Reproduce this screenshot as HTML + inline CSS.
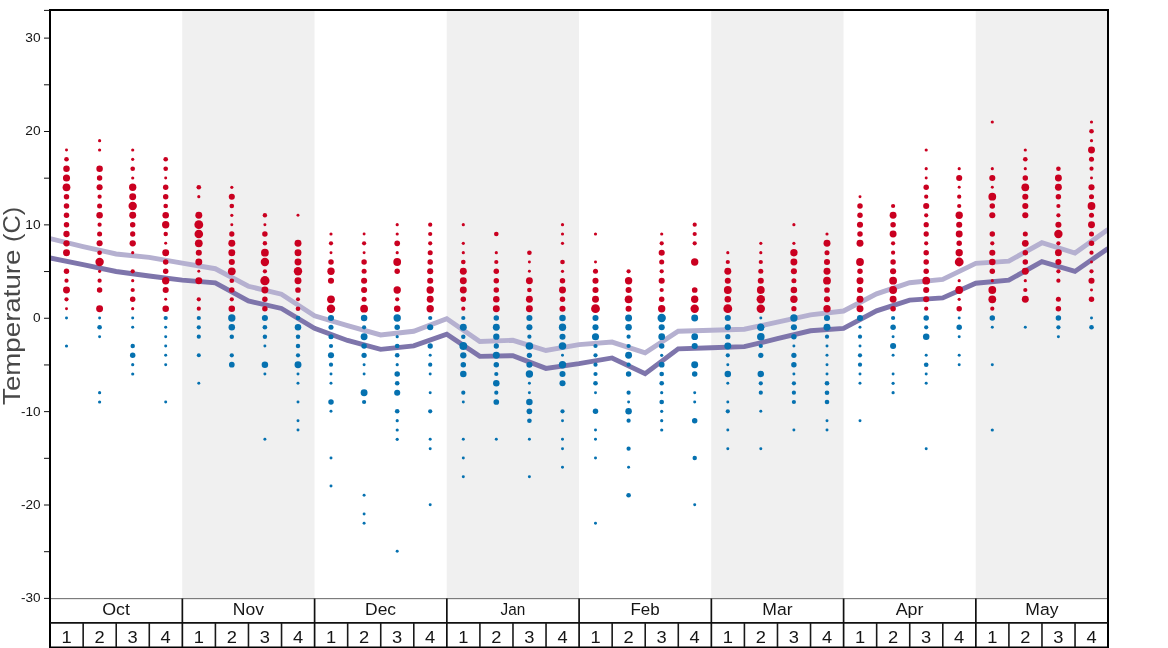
<!DOCTYPE html>
<html><head><meta charset="utf-8"><title>Temperature</title>
<style>html,body{margin:0;padding:0;background:#fff}body{width:1168px;height:648px;overflow:hidden}svg{display:block;will-change:transform}text{font-family:"Liberation Sans",sans-serif}</style></head><body>
<svg width="1168" height="648" viewBox="0 0 1168 648">
<rect width="1168" height="648" fill="#fff"/>
<rect x="182.25" y="10.0" width="132.25" height="588.0" fill="#f0f0f0"/>
<rect x="446.75" y="10.0" width="132.25" height="588.0" fill="#f0f0f0"/>
<rect x="711.25" y="10.0" width="132.25" height="588.0" fill="#f0f0f0"/>
<rect x="975.75" y="10.0" width="132.25" height="588.0" fill="#f0f0f0"/>
<clipPath id="c"><rect x="50.0" y="10.0" width="1058.0" height="588.0"/></clipPath>
<g clip-path="url(#c)" fill="none" stroke-width="4.9" stroke-linejoin="miter">
<path d="M50.00 238.57 L83.06 246.51 L116.12 253.97 L149.19 257.43 L182.25 263.12 L215.31 268.72 L248.38 286.27 L281.44 294.20 L314.50 315.76 L347.56 325.56 L380.62 334.89 L413.69 331.25 L446.75 318.65 L479.81 341.43 L512.88 340.31 L545.94 350.48 L579.00 344.60 L612.06 342.08 L645.12 352.81 L678.19 331.25 L711.25 330.32 L744.31 329.20 L777.38 322.11 L810.44 314.92 L843.50 311.00 L876.56 293.83 L909.62 282.72 L942.69 279.36 L975.75 263.40 L1008.81 261.16 L1041.88 242.77 L1074.94 253.04 L1108.00 229.43" stroke="#b5b0d0"/>
<path d="M50.00 257.89 L83.06 264.71 L116.12 271.52 L149.19 276.00 L182.25 280.11 L215.31 282.81 L248.38 301.01 L281.44 308.48 L314.50 328.36 L347.56 340.49 L380.62 349.36 L413.69 345.91 L446.75 334.15 L479.81 356.36 L512.88 355.71 L545.94 368.40 L579.00 363.64 L612.06 357.95 L645.12 373.63 L678.19 348.89 L711.25 347.77 L744.31 346.65 L777.38 338.72 L810.44 330.79 L843.50 328.45 L876.56 310.81 L909.62 300.17 L942.69 297.93 L975.75 283.19 L1008.81 280.20 L1041.88 261.63 L1074.94 271.43 L1108.00 248.47" stroke="#7e75ab"/>
</g>
<g fill="#ca0020"><circle cx="66.5" cy="150.0" r="1.49"/><circle cx="66.5" cy="159.3" r="2.32"/><circle cx="66.5" cy="168.7" r="3.26"/><circle cx="66.5" cy="178.0" r="3.57"/><circle cx="66.5" cy="187.3" r="3.89"/><circle cx="66.5" cy="196.7" r="2.74"/><circle cx="66.5" cy="206.0" r="2.74"/><circle cx="66.5" cy="215.3" r="2.74"/><circle cx="66.5" cy="224.7" r="2.74"/><circle cx="66.5" cy="234.0" r="3.16"/><circle cx="66.5" cy="243.3" r="3.16"/><circle cx="66.5" cy="252.7" r="3.47"/><circle cx="66.5" cy="271.3" r="2.74"/><circle cx="66.5" cy="280.7" r="2.11"/><circle cx="66.5" cy="290.0" r="3.47"/><circle cx="66.5" cy="299.3" r="2.11"/><circle cx="66.5" cy="308.7" r="1.49"/><circle cx="99.6" cy="140.7" r="1.59"/><circle cx="99.6" cy="150.0" r="1.59"/><circle cx="99.6" cy="168.7" r="3.26"/><circle cx="99.6" cy="178.0" r="2.74"/><circle cx="99.6" cy="187.3" r="3.05"/><circle cx="99.6" cy="196.7" r="2.11"/><circle cx="99.6" cy="206.0" r="2.53"/><circle cx="99.6" cy="215.3" r="3.26"/><circle cx="99.6" cy="224.7" r="2.11"/><circle cx="99.6" cy="234.0" r="2.53"/><circle cx="99.6" cy="243.3" r="3.05"/><circle cx="99.6" cy="252.7" r="2.32"/><circle cx="99.6" cy="262.0" r="4.20"/><circle cx="99.6" cy="271.3" r="1.59"/><circle cx="99.6" cy="280.7" r="2.11"/><circle cx="99.6" cy="290.0" r="2.74"/><circle cx="99.6" cy="308.7" r="3.47"/><circle cx="132.7" cy="150.0" r="1.59"/><circle cx="132.7" cy="159.3" r="1.59"/><circle cx="132.7" cy="168.7" r="2.32"/><circle cx="132.7" cy="178.0" r="1.59"/><circle cx="132.7" cy="187.3" r="3.68"/><circle cx="132.7" cy="196.7" r="3.47"/><circle cx="132.7" cy="206.0" r="4.20"/><circle cx="132.7" cy="215.3" r="3.47"/><circle cx="132.7" cy="224.7" r="2.74"/><circle cx="132.7" cy="234.0" r="2.63"/><circle cx="132.7" cy="243.3" r="3.16"/><circle cx="132.7" cy="252.7" r="1.59"/><circle cx="132.7" cy="271.3" r="2.11"/><circle cx="132.7" cy="280.7" r="1.59"/><circle cx="132.7" cy="290.0" r="2.11"/><circle cx="132.7" cy="299.3" r="2.74"/><circle cx="132.7" cy="308.7" r="1.59"/><circle cx="165.7" cy="159.3" r="2.32"/><circle cx="165.7" cy="168.7" r="2.32"/><circle cx="165.7" cy="178.0" r="1.49"/><circle cx="165.7" cy="187.3" r="2.74"/><circle cx="165.7" cy="196.7" r="2.74"/><circle cx="165.7" cy="206.0" r="2.32"/><circle cx="165.7" cy="215.3" r="3.26"/><circle cx="165.7" cy="224.7" r="3.68"/><circle cx="165.7" cy="234.0" r="2.22"/><circle cx="165.7" cy="243.3" r="1.49"/><circle cx="165.7" cy="252.7" r="3.47"/><circle cx="165.7" cy="262.0" r="2.74"/><circle cx="165.7" cy="271.3" r="2.74"/><circle cx="165.7" cy="280.7" r="3.68"/><circle cx="165.7" cy="290.0" r="3.05"/><circle cx="165.7" cy="299.3" r="1.49"/><circle cx="165.7" cy="308.7" r="3.26"/><circle cx="198.8" cy="187.3" r="2.32"/><circle cx="198.8" cy="196.7" r="1.59"/><circle cx="198.8" cy="215.3" r="3.47"/><circle cx="198.8" cy="224.7" r="4.41"/><circle cx="198.8" cy="234.0" r="4.31"/><circle cx="198.8" cy="243.3" r="3.89"/><circle cx="198.8" cy="252.7" r="3.05"/><circle cx="198.8" cy="262.0" r="3.47"/><circle cx="198.8" cy="271.3" r="1.49"/><circle cx="198.8" cy="280.7" r="3.47"/><circle cx="198.8" cy="299.3" r="2.11"/><circle cx="198.8" cy="308.7" r="2.11"/><circle cx="231.8" cy="187.3" r="1.59"/><circle cx="231.8" cy="196.7" r="3.05"/><circle cx="231.8" cy="206.0" r="2.32"/><circle cx="231.8" cy="215.3" r="1.59"/><circle cx="231.8" cy="224.7" r="1.49"/><circle cx="231.8" cy="234.0" r="2.63"/><circle cx="231.8" cy="243.3" r="3.47"/><circle cx="231.8" cy="252.7" r="3.47"/><circle cx="231.8" cy="262.0" r="3.05"/><circle cx="231.8" cy="271.3" r="3.89"/><circle cx="231.8" cy="280.7" r="2.32"/><circle cx="231.8" cy="290.0" r="2.74"/><circle cx="231.8" cy="299.3" r="2.11"/><circle cx="231.8" cy="308.7" r="3.26"/><circle cx="264.9" cy="215.3" r="2.22"/><circle cx="264.9" cy="224.7" r="1.49"/><circle cx="264.9" cy="234.0" r="2.74"/><circle cx="264.9" cy="243.3" r="2.22"/><circle cx="264.9" cy="252.7" r="3.89"/><circle cx="264.9" cy="262.0" r="4.20"/><circle cx="264.9" cy="271.3" r="2.11"/><circle cx="264.9" cy="280.7" r="4.62"/><circle cx="264.9" cy="290.0" r="3.47"/><circle cx="264.9" cy="299.3" r="2.74"/><circle cx="264.9" cy="308.7" r="2.74"/><circle cx="298.0" cy="215.3" r="1.49"/><circle cx="298.0" cy="243.3" r="3.47"/><circle cx="298.0" cy="252.7" r="3.47"/><circle cx="298.0" cy="262.0" r="3.47"/><circle cx="298.0" cy="271.3" r="4.20"/><circle cx="298.0" cy="280.7" r="3.47"/><circle cx="298.0" cy="290.0" r="2.84"/><circle cx="298.0" cy="299.3" r="2.01"/><circle cx="298.0" cy="308.7" r="2.32"/><circle cx="331.0" cy="234.0" r="1.59"/><circle cx="331.0" cy="243.3" r="2.11"/><circle cx="331.0" cy="252.7" r="1.49"/><circle cx="331.0" cy="262.0" r="2.74"/><circle cx="331.0" cy="271.3" r="3.68"/><circle cx="331.0" cy="280.7" r="3.05"/><circle cx="331.0" cy="299.3" r="3.89"/><circle cx="331.0" cy="308.7" r="4.20"/><circle cx="364.1" cy="234.0" r="1.49"/><circle cx="364.1" cy="243.3" r="2.11"/><circle cx="364.1" cy="252.7" r="1.49"/><circle cx="364.1" cy="262.0" r="2.74"/><circle cx="364.1" cy="271.3" r="2.53"/><circle cx="364.1" cy="280.7" r="3.05"/><circle cx="364.1" cy="290.0" r="3.05"/><circle cx="364.1" cy="299.3" r="2.53"/><circle cx="364.1" cy="308.7" r="3.89"/><circle cx="397.2" cy="224.7" r="1.59"/><circle cx="397.2" cy="234.0" r="1.59"/><circle cx="397.2" cy="243.3" r="2.84"/><circle cx="397.2" cy="252.7" r="1.59"/><circle cx="397.2" cy="262.0" r="3.89"/><circle cx="397.2" cy="271.3" r="2.74"/><circle cx="397.2" cy="290.0" r="3.68"/><circle cx="397.2" cy="299.3" r="2.11"/><circle cx="397.2" cy="308.7" r="3.26"/><circle cx="430.2" cy="224.7" r="2.11"/><circle cx="430.2" cy="234.0" r="2.11"/><circle cx="430.2" cy="243.3" r="2.11"/><circle cx="430.2" cy="252.7" r="2.53"/><circle cx="430.2" cy="262.0" r="2.74"/><circle cx="430.2" cy="271.3" r="3.05"/><circle cx="430.2" cy="280.7" r="3.05"/><circle cx="430.2" cy="290.0" r="3.68"/><circle cx="430.2" cy="299.3" r="3.47"/><circle cx="430.2" cy="308.7" r="3.68"/><circle cx="463.3" cy="224.7" r="1.59"/><circle cx="463.3" cy="243.3" r="1.59"/><circle cx="463.3" cy="252.7" r="1.59"/><circle cx="463.3" cy="262.0" r="2.32"/><circle cx="463.3" cy="271.3" r="3.47"/><circle cx="463.3" cy="280.7" r="3.47"/><circle cx="463.3" cy="290.0" r="3.47"/><circle cx="463.3" cy="299.3" r="2.74"/><circle cx="463.3" cy="308.7" r="2.11"/><circle cx="496.3" cy="234.0" r="2.32"/><circle cx="496.3" cy="252.7" r="1.59"/><circle cx="496.3" cy="262.0" r="2.11"/><circle cx="496.3" cy="271.3" r="2.74"/><circle cx="496.3" cy="280.7" r="2.74"/><circle cx="496.3" cy="290.0" r="2.74"/><circle cx="496.3" cy="299.3" r="3.26"/><circle cx="496.3" cy="308.7" r="3.47"/><circle cx="529.4" cy="252.7" r="2.32"/><circle cx="529.4" cy="262.0" r="1.49"/><circle cx="529.4" cy="271.3" r="1.49"/><circle cx="529.4" cy="280.7" r="3.47"/><circle cx="529.4" cy="290.0" r="2.32"/><circle cx="529.4" cy="299.3" r="3.47"/><circle cx="529.4" cy="308.7" r="3.47"/><circle cx="562.5" cy="224.7" r="1.59"/><circle cx="562.5" cy="234.0" r="1.59"/><circle cx="562.5" cy="243.3" r="1.59"/><circle cx="562.5" cy="262.0" r="2.32"/><circle cx="562.5" cy="271.3" r="1.59"/><circle cx="562.5" cy="280.7" r="2.74"/><circle cx="562.5" cy="290.0" r="3.47"/><circle cx="562.5" cy="299.3" r="2.74"/><circle cx="562.5" cy="308.7" r="3.05"/><circle cx="595.5" cy="234.0" r="1.59"/><circle cx="595.5" cy="262.0" r="1.49"/><circle cx="595.5" cy="271.3" r="2.53"/><circle cx="595.5" cy="280.7" r="3.05"/><circle cx="595.5" cy="290.0" r="3.05"/><circle cx="595.5" cy="299.3" r="3.47"/><circle cx="595.5" cy="308.7" r="4.41"/><circle cx="628.6" cy="271.3" r="2.11"/><circle cx="628.6" cy="280.7" r="3.68"/><circle cx="628.6" cy="290.0" r="3.05"/><circle cx="628.6" cy="299.3" r="3.89"/><circle cx="628.6" cy="308.7" r="3.05"/><circle cx="661.7" cy="234.0" r="1.59"/><circle cx="661.7" cy="243.3" r="2.11"/><circle cx="661.7" cy="252.7" r="3.05"/><circle cx="661.7" cy="262.0" r="2.53"/><circle cx="661.7" cy="271.3" r="2.11"/><circle cx="661.7" cy="280.7" r="3.05"/><circle cx="661.7" cy="290.0" r="2.11"/><circle cx="661.7" cy="299.3" r="2.74"/><circle cx="661.7" cy="308.7" r="3.68"/><circle cx="694.7" cy="224.7" r="2.11"/><circle cx="694.7" cy="234.0" r="2.11"/><circle cx="694.7" cy="243.3" r="2.11"/><circle cx="694.7" cy="262.0" r="3.68"/><circle cx="694.7" cy="290.0" r="2.84"/><circle cx="694.7" cy="299.3" r="3.68"/><circle cx="694.7" cy="308.7" r="4.20"/><circle cx="727.8" cy="252.7" r="1.59"/><circle cx="727.8" cy="262.0" r="2.11"/><circle cx="727.8" cy="271.3" r="3.47"/><circle cx="727.8" cy="280.7" r="3.05"/><circle cx="727.8" cy="290.0" r="3.89"/><circle cx="727.8" cy="299.3" r="3.26"/><circle cx="727.8" cy="308.7" r="4.41"/><circle cx="760.8" cy="243.3" r="1.59"/><circle cx="760.8" cy="252.7" r="1.59"/><circle cx="760.8" cy="262.0" r="2.11"/><circle cx="760.8" cy="271.3" r="2.53"/><circle cx="760.8" cy="280.7" r="3.05"/><circle cx="760.8" cy="290.0" r="3.89"/><circle cx="760.8" cy="299.3" r="4.20"/><circle cx="760.8" cy="308.7" r="4.20"/><circle cx="793.9" cy="224.7" r="1.59"/><circle cx="793.9" cy="243.3" r="1.59"/><circle cx="793.9" cy="252.7" r="3.68"/><circle cx="793.9" cy="262.0" r="3.47"/><circle cx="793.9" cy="271.3" r="3.05"/><circle cx="793.9" cy="280.7" r="2.53"/><circle cx="793.9" cy="290.0" r="3.26"/><circle cx="793.9" cy="299.3" r="3.68"/><circle cx="793.9" cy="308.7" r="2.63"/><circle cx="827.0" cy="234.0" r="1.59"/><circle cx="827.0" cy="243.3" r="3.47"/><circle cx="827.0" cy="252.7" r="2.53"/><circle cx="827.0" cy="262.0" r="3.05"/><circle cx="827.0" cy="271.3" r="3.47"/><circle cx="827.0" cy="280.7" r="3.89"/><circle cx="827.0" cy="290.0" r="2.84"/><circle cx="827.0" cy="299.3" r="3.05"/><circle cx="827.0" cy="308.7" r="3.68"/><circle cx="860.0" cy="196.7" r="1.49"/><circle cx="860.0" cy="206.0" r="2.74"/><circle cx="860.0" cy="215.3" r="2.74"/><circle cx="860.0" cy="224.7" r="3.05"/><circle cx="860.0" cy="234.0" r="2.74"/><circle cx="860.0" cy="243.3" r="3.47"/><circle cx="860.0" cy="262.0" r="3.89"/><circle cx="860.0" cy="271.3" r="2.74"/><circle cx="860.0" cy="280.7" r="3.47"/><circle cx="860.0" cy="290.0" r="3.05"/><circle cx="860.0" cy="299.3" r="3.47"/><circle cx="860.0" cy="308.7" r="3.47"/><circle cx="893.1" cy="206.0" r="2.11"/><circle cx="893.1" cy="215.3" r="3.47"/><circle cx="893.1" cy="224.7" r="2.74"/><circle cx="893.1" cy="234.0" r="3.47"/><circle cx="893.1" cy="243.3" r="2.11"/><circle cx="893.1" cy="252.7" r="2.11"/><circle cx="893.1" cy="262.0" r="2.74"/><circle cx="893.1" cy="271.3" r="3.05"/><circle cx="893.1" cy="280.7" r="3.89"/><circle cx="893.1" cy="290.0" r="3.89"/><circle cx="893.1" cy="299.3" r="3.47"/><circle cx="893.1" cy="308.7" r="2.74"/><circle cx="926.2" cy="150.0" r="1.59"/><circle cx="926.2" cy="168.7" r="1.59"/><circle cx="926.2" cy="178.0" r="1.49"/><circle cx="926.2" cy="187.3" r="2.74"/><circle cx="926.2" cy="196.7" r="2.11"/><circle cx="926.2" cy="206.0" r="3.05"/><circle cx="926.2" cy="215.3" r="2.11"/><circle cx="926.2" cy="224.7" r="2.63"/><circle cx="926.2" cy="234.0" r="2.63"/><circle cx="926.2" cy="243.3" r="2.11"/><circle cx="926.2" cy="252.7" r="2.74"/><circle cx="926.2" cy="262.0" r="2.74"/><circle cx="926.2" cy="271.3" r="2.74"/><circle cx="926.2" cy="280.7" r="3.89"/><circle cx="926.2" cy="290.0" r="3.05"/><circle cx="926.2" cy="299.3" r="3.05"/><circle cx="926.2" cy="308.7" r="2.11"/><circle cx="959.2" cy="168.7" r="1.59"/><circle cx="959.2" cy="178.0" r="3.05"/><circle cx="959.2" cy="187.3" r="1.49"/><circle cx="959.2" cy="196.7" r="2.11"/><circle cx="959.2" cy="206.0" r="2.11"/><circle cx="959.2" cy="215.3" r="3.68"/><circle cx="959.2" cy="224.7" r="3.05"/><circle cx="959.2" cy="234.0" r="3.47"/><circle cx="959.2" cy="243.3" r="2.74"/><circle cx="959.2" cy="252.7" r="3.68"/><circle cx="959.2" cy="262.0" r="4.41"/><circle cx="959.2" cy="280.7" r="1.59"/><circle cx="959.2" cy="290.0" r="3.89"/><circle cx="959.2" cy="299.3" r="1.59"/><circle cx="959.2" cy="308.7" r="2.74"/><circle cx="992.3" cy="122.0" r="1.59"/><circle cx="992.3" cy="168.7" r="1.59"/><circle cx="992.3" cy="178.0" r="3.05"/><circle cx="992.3" cy="187.3" r="1.49"/><circle cx="992.3" cy="196.7" r="3.89"/><circle cx="992.3" cy="206.0" r="2.74"/><circle cx="992.3" cy="215.3" r="3.05"/><circle cx="992.3" cy="234.0" r="2.74"/><circle cx="992.3" cy="243.3" r="2.11"/><circle cx="992.3" cy="252.7" r="3.05"/><circle cx="992.3" cy="262.0" r="3.26"/><circle cx="992.3" cy="271.3" r="2.74"/><circle cx="992.3" cy="280.7" r="1.59"/><circle cx="992.3" cy="290.0" r="3.89"/><circle cx="992.3" cy="299.3" r="3.89"/><circle cx="992.3" cy="308.7" r="2.11"/><circle cx="1025.3" cy="150.0" r="1.59"/><circle cx="1025.3" cy="159.3" r="2.32"/><circle cx="1025.3" cy="168.7" r="1.59"/><circle cx="1025.3" cy="178.0" r="2.74"/><circle cx="1025.3" cy="187.3" r="3.89"/><circle cx="1025.3" cy="196.7" r="3.05"/><circle cx="1025.3" cy="206.0" r="3.05"/><circle cx="1025.3" cy="215.3" r="3.05"/><circle cx="1025.3" cy="234.0" r="2.53"/><circle cx="1025.3" cy="243.3" r="3.37"/><circle cx="1025.3" cy="252.7" r="2.74"/><circle cx="1025.3" cy="262.0" r="2.74"/><circle cx="1025.3" cy="271.3" r="3.47"/><circle cx="1025.3" cy="280.7" r="1.59"/><circle cx="1025.3" cy="290.0" r="2.11"/><circle cx="1025.3" cy="299.3" r="3.47"/><circle cx="1058.4" cy="168.7" r="2.32"/><circle cx="1058.4" cy="178.0" r="3.47"/><circle cx="1058.4" cy="187.3" r="3.47"/><circle cx="1058.4" cy="196.7" r="2.74"/><circle cx="1058.4" cy="206.0" r="2.11"/><circle cx="1058.4" cy="215.3" r="2.11"/><circle cx="1058.4" cy="224.7" r="3.05"/><circle cx="1058.4" cy="234.0" r="4.20"/><circle cx="1058.4" cy="243.3" r="2.11"/><circle cx="1058.4" cy="252.7" r="3.47"/><circle cx="1058.4" cy="262.0" r="3.05"/><circle cx="1058.4" cy="271.3" r="2.11"/><circle cx="1058.4" cy="280.7" r="2.11"/><circle cx="1058.4" cy="299.3" r="2.53"/><circle cx="1058.4" cy="308.7" r="2.74"/><circle cx="1091.5" cy="122.0" r="1.59"/><circle cx="1091.5" cy="131.3" r="2.32"/><circle cx="1091.5" cy="140.7" r="1.59"/><circle cx="1091.5" cy="150.0" r="3.47"/><circle cx="1091.5" cy="159.3" r="2.53"/><circle cx="1091.5" cy="168.7" r="2.11"/><circle cx="1091.5" cy="178.0" r="1.49"/><circle cx="1091.5" cy="187.3" r="3.05"/><circle cx="1091.5" cy="196.7" r="2.53"/><circle cx="1091.5" cy="206.0" r="3.89"/><circle cx="1091.5" cy="215.3" r="2.53"/><circle cx="1091.5" cy="224.7" r="3.47"/><circle cx="1091.5" cy="234.0" r="2.53"/><circle cx="1091.5" cy="243.3" r="2.74"/><circle cx="1091.5" cy="252.7" r="2.11"/><circle cx="1091.5" cy="262.0" r="1.49"/><circle cx="1091.5" cy="271.3" r="2.11"/><circle cx="1091.5" cy="280.7" r="3.05"/><circle cx="1091.5" cy="290.0" r="1.49"/><circle cx="1091.5" cy="299.3" r="2.74"/></g>
<g fill="#0571b0"><circle cx="66.5" cy="318.0" r="1.49"/><circle cx="66.5" cy="346.0" r="1.59"/><circle cx="99.6" cy="318.0" r="1.49"/><circle cx="99.6" cy="327.3" r="2.32"/><circle cx="99.6" cy="336.7" r="1.49"/><circle cx="99.6" cy="392.7" r="1.59"/><circle cx="99.6" cy="402.0" r="1.59"/><circle cx="132.7" cy="318.0" r="1.49"/><circle cx="132.7" cy="327.3" r="1.49"/><circle cx="132.7" cy="346.0" r="2.22"/><circle cx="132.7" cy="355.3" r="2.74"/><circle cx="132.7" cy="364.7" r="1.59"/><circle cx="132.7" cy="374.0" r="1.59"/><circle cx="165.7" cy="318.0" r="2.11"/><circle cx="165.7" cy="327.3" r="1.49"/><circle cx="165.7" cy="336.7" r="1.49"/><circle cx="165.7" cy="346.0" r="1.49"/><circle cx="165.7" cy="355.3" r="1.49"/><circle cx="165.7" cy="364.7" r="1.49"/><circle cx="165.7" cy="402.0" r="1.49"/><circle cx="198.8" cy="318.0" r="2.11"/><circle cx="198.8" cy="327.3" r="2.11"/><circle cx="198.8" cy="336.7" r="2.11"/><circle cx="198.8" cy="355.3" r="2.01"/><circle cx="198.8" cy="383.3" r="1.49"/><circle cx="231.8" cy="318.0" r="3.68"/><circle cx="231.8" cy="327.3" r="3.26"/><circle cx="231.8" cy="336.7" r="2.22"/><circle cx="231.8" cy="355.3" r="2.11"/><circle cx="231.8" cy="364.7" r="2.84"/><circle cx="264.9" cy="318.0" r="3.05"/><circle cx="264.9" cy="327.3" r="2.32"/><circle cx="264.9" cy="336.7" r="2.22"/><circle cx="264.9" cy="346.0" r="1.49"/><circle cx="264.9" cy="364.7" r="3.26"/><circle cx="264.9" cy="374.0" r="1.49"/><circle cx="264.9" cy="439.3" r="1.49"/><circle cx="298.0" cy="318.0" r="2.32"/><circle cx="298.0" cy="327.3" r="3.26"/><circle cx="298.0" cy="336.7" r="2.22"/><circle cx="298.0" cy="346.0" r="2.22"/><circle cx="298.0" cy="355.3" r="2.11"/><circle cx="298.0" cy="364.7" r="3.47"/><circle cx="298.0" cy="374.0" r="1.49"/><circle cx="298.0" cy="383.3" r="1.49"/><circle cx="298.0" cy="402.0" r="1.49"/><circle cx="298.0" cy="420.7" r="1.49"/><circle cx="298.0" cy="430.0" r="1.49"/><circle cx="331.0" cy="318.0" r="3.05"/><circle cx="331.0" cy="327.3" r="2.53"/><circle cx="331.0" cy="336.7" r="2.53"/><circle cx="331.0" cy="346.0" r="2.11"/><circle cx="331.0" cy="355.3" r="3.05"/><circle cx="331.0" cy="364.7" r="2.11"/><circle cx="331.0" cy="374.0" r="1.49"/><circle cx="331.0" cy="383.3" r="1.49"/><circle cx="331.0" cy="402.0" r="2.74"/><circle cx="331.0" cy="411.3" r="1.49"/><circle cx="331.0" cy="458.0" r="1.49"/><circle cx="331.0" cy="486.0" r="1.49"/><circle cx="364.1" cy="318.0" r="3.26"/><circle cx="364.1" cy="327.3" r="2.11"/><circle cx="364.1" cy="336.7" r="3.47"/><circle cx="364.1" cy="346.0" r="2.74"/><circle cx="364.1" cy="355.3" r="2.63"/><circle cx="364.1" cy="364.7" r="1.49"/><circle cx="364.1" cy="374.0" r="1.49"/><circle cx="364.1" cy="392.7" r="3.47"/><circle cx="364.1" cy="402.0" r="2.11"/><circle cx="364.1" cy="495.3" r="1.49"/><circle cx="364.1" cy="514.0" r="1.49"/><circle cx="364.1" cy="523.3" r="1.49"/><circle cx="397.2" cy="318.0" r="3.68"/><circle cx="397.2" cy="327.3" r="2.74"/><circle cx="397.2" cy="336.7" r="1.59"/><circle cx="397.2" cy="346.0" r="2.32"/><circle cx="397.2" cy="355.3" r="2.32"/><circle cx="397.2" cy="364.7" r="1.59"/><circle cx="397.2" cy="374.0" r="2.74"/><circle cx="397.2" cy="383.3" r="2.32"/><circle cx="397.2" cy="392.7" r="3.05"/><circle cx="397.2" cy="411.3" r="2.32"/><circle cx="397.2" cy="420.7" r="1.59"/><circle cx="397.2" cy="430.0" r="1.59"/><circle cx="397.2" cy="439.3" r="1.59"/><circle cx="397.2" cy="551.3" r="1.49"/><circle cx="430.2" cy="318.0" r="2.11"/><circle cx="430.2" cy="327.3" r="3.05"/><circle cx="430.2" cy="346.0" r="2.63"/><circle cx="430.2" cy="355.3" r="1.49"/><circle cx="430.2" cy="364.7" r="2.11"/><circle cx="430.2" cy="374.0" r="1.49"/><circle cx="430.2" cy="392.7" r="1.49"/><circle cx="430.2" cy="411.3" r="2.11"/><circle cx="430.2" cy="439.3" r="1.49"/><circle cx="430.2" cy="448.7" r="1.49"/><circle cx="430.2" cy="504.7" r="1.49"/><circle cx="463.3" cy="318.0" r="2.11"/><circle cx="463.3" cy="327.3" r="3.47"/><circle cx="463.3" cy="336.7" r="2.22"/><circle cx="463.3" cy="346.0" r="3.89"/><circle cx="463.3" cy="355.3" r="3.16"/><circle cx="463.3" cy="364.7" r="2.74"/><circle cx="463.3" cy="374.0" r="3.26"/><circle cx="463.3" cy="392.7" r="2.11"/><circle cx="463.3" cy="402.0" r="1.49"/><circle cx="463.3" cy="439.3" r="1.49"/><circle cx="463.3" cy="458.0" r="1.49"/><circle cx="463.3" cy="476.7" r="1.49"/><circle cx="496.3" cy="318.0" r="2.74"/><circle cx="496.3" cy="327.3" r="3.47"/><circle cx="496.3" cy="336.7" r="3.16"/><circle cx="496.3" cy="346.0" r="2.63"/><circle cx="496.3" cy="355.3" r="3.47"/><circle cx="496.3" cy="364.7" r="2.74"/><circle cx="496.3" cy="374.0" r="2.11"/><circle cx="496.3" cy="383.3" r="3.26"/><circle cx="496.3" cy="392.7" r="2.11"/><circle cx="496.3" cy="402.0" r="2.84"/><circle cx="496.3" cy="439.3" r="1.49"/><circle cx="529.4" cy="318.0" r="3.05"/><circle cx="529.4" cy="327.3" r="3.05"/><circle cx="529.4" cy="336.7" r="2.11"/><circle cx="529.4" cy="346.0" r="3.78"/><circle cx="529.4" cy="355.3" r="2.63"/><circle cx="529.4" cy="364.7" r="3.05"/><circle cx="529.4" cy="374.0" r="3.68"/><circle cx="529.4" cy="383.3" r="1.49"/><circle cx="529.4" cy="392.7" r="1.49"/><circle cx="529.4" cy="402.0" r="3.26"/><circle cx="529.4" cy="411.3" r="2.84"/><circle cx="529.4" cy="420.7" r="2.32"/><circle cx="529.4" cy="439.3" r="1.49"/><circle cx="529.4" cy="476.7" r="1.49"/><circle cx="562.5" cy="318.0" r="3.26"/><circle cx="562.5" cy="327.3" r="3.68"/><circle cx="562.5" cy="336.7" r="3.05"/><circle cx="562.5" cy="346.0" r="3.78"/><circle cx="562.5" cy="355.3" r="1.49"/><circle cx="562.5" cy="364.7" r="3.68"/><circle cx="562.5" cy="374.0" r="3.05"/><circle cx="562.5" cy="383.3" r="3.05"/><circle cx="562.5" cy="411.3" r="2.11"/><circle cx="562.5" cy="420.7" r="1.49"/><circle cx="562.5" cy="439.3" r="1.49"/><circle cx="562.5" cy="448.7" r="1.49"/><circle cx="562.5" cy="467.3" r="1.49"/><circle cx="595.5" cy="318.0" r="3.05"/><circle cx="595.5" cy="327.3" r="3.05"/><circle cx="595.5" cy="336.7" r="3.57"/><circle cx="595.5" cy="346.0" r="2.11"/><circle cx="595.5" cy="355.3" r="2.11"/><circle cx="595.5" cy="364.7" r="2.11"/><circle cx="595.5" cy="374.0" r="2.11"/><circle cx="595.5" cy="383.3" r="2.32"/><circle cx="595.5" cy="392.7" r="1.49"/><circle cx="595.5" cy="411.3" r="2.74"/><circle cx="595.5" cy="430.0" r="1.49"/><circle cx="595.5" cy="439.3" r="1.49"/><circle cx="595.5" cy="458.0" r="1.49"/><circle cx="595.5" cy="523.3" r="1.49"/><circle cx="628.6" cy="318.0" r="3.47"/><circle cx="628.6" cy="327.3" r="3.26"/><circle cx="628.6" cy="336.7" r="2.11"/><circle cx="628.6" cy="346.0" r="2.11"/><circle cx="628.6" cy="355.3" r="3.47"/><circle cx="628.6" cy="364.7" r="2.11"/><circle cx="628.6" cy="374.0" r="2.74"/><circle cx="628.6" cy="392.7" r="2.11"/><circle cx="628.6" cy="402.0" r="1.49"/><circle cx="628.6" cy="411.3" r="3.26"/><circle cx="628.6" cy="420.7" r="2.11"/><circle cx="628.6" cy="448.7" r="2.11"/><circle cx="628.6" cy="467.3" r="1.49"/><circle cx="628.6" cy="495.3" r="2.32"/><circle cx="661.7" cy="318.0" r="4.20"/><circle cx="661.7" cy="327.3" r="3.05"/><circle cx="661.7" cy="336.7" r="3.37"/><circle cx="661.7" cy="346.0" r="2.74"/><circle cx="661.7" cy="355.3" r="1.59"/><circle cx="661.7" cy="364.7" r="2.84"/><circle cx="661.7" cy="374.0" r="2.32"/><circle cx="661.7" cy="383.3" r="2.32"/><circle cx="661.7" cy="392.7" r="1.59"/><circle cx="661.7" cy="402.0" r="2.32"/><circle cx="661.7" cy="411.3" r="1.59"/><circle cx="661.7" cy="420.7" r="1.59"/><circle cx="661.7" cy="430.0" r="1.59"/><circle cx="694.7" cy="318.0" r="3.47"/><circle cx="694.7" cy="336.7" r="3.37"/><circle cx="694.7" cy="346.0" r="3.05"/><circle cx="694.7" cy="364.7" r="3.47"/><circle cx="694.7" cy="374.0" r="2.74"/><circle cx="694.7" cy="392.7" r="1.49"/><circle cx="694.7" cy="402.0" r="1.49"/><circle cx="694.7" cy="420.7" r="2.74"/><circle cx="694.7" cy="458.0" r="2.22"/><circle cx="694.7" cy="504.7" r="1.49"/><circle cx="727.8" cy="318.0" r="3.05"/><circle cx="727.8" cy="327.3" r="3.05"/><circle cx="727.8" cy="336.7" r="2.63"/><circle cx="727.8" cy="346.0" r="3.47"/><circle cx="727.8" cy="355.3" r="2.11"/><circle cx="727.8" cy="364.7" r="1.49"/><circle cx="727.8" cy="374.0" r="3.26"/><circle cx="727.8" cy="383.3" r="1.49"/><circle cx="727.8" cy="402.0" r="1.49"/><circle cx="727.8" cy="411.3" r="2.11"/><circle cx="727.8" cy="430.0" r="1.49"/><circle cx="727.8" cy="448.7" r="1.49"/><circle cx="760.8" cy="318.0" r="1.49"/><circle cx="760.8" cy="327.3" r="3.68"/><circle cx="760.8" cy="336.7" r="3.78"/><circle cx="760.8" cy="346.0" r="2.11"/><circle cx="760.8" cy="355.3" r="2.63"/><circle cx="760.8" cy="374.0" r="3.26"/><circle cx="760.8" cy="383.3" r="2.11"/><circle cx="760.8" cy="392.7" r="2.11"/><circle cx="760.8" cy="411.3" r="1.49"/><circle cx="760.8" cy="448.7" r="1.49"/><circle cx="793.9" cy="318.0" r="3.68"/><circle cx="793.9" cy="327.3" r="3.05"/><circle cx="793.9" cy="336.7" r="2.74"/><circle cx="793.9" cy="346.0" r="1.49"/><circle cx="793.9" cy="355.3" r="2.63"/><circle cx="793.9" cy="364.7" r="2.74"/><circle cx="793.9" cy="374.0" r="1.49"/><circle cx="793.9" cy="383.3" r="2.11"/><circle cx="793.9" cy="392.7" r="2.11"/><circle cx="793.9" cy="402.0" r="2.11"/><circle cx="793.9" cy="430.0" r="1.49"/><circle cx="827.0" cy="318.0" r="3.05"/><circle cx="827.0" cy="327.3" r="3.47"/><circle cx="827.0" cy="336.7" r="2.11"/><circle cx="827.0" cy="346.0" r="1.49"/><circle cx="827.0" cy="355.3" r="1.49"/><circle cx="827.0" cy="364.7" r="1.49"/><circle cx="827.0" cy="374.0" r="1.49"/><circle cx="827.0" cy="383.3" r="2.32"/><circle cx="827.0" cy="392.7" r="2.32"/><circle cx="827.0" cy="402.0" r="2.32"/><circle cx="827.0" cy="420.7" r="1.49"/><circle cx="827.0" cy="430.0" r="1.49"/><circle cx="860.0" cy="318.0" r="3.05"/><circle cx="860.0" cy="327.3" r="1.49"/><circle cx="860.0" cy="336.7" r="2.11"/><circle cx="860.0" cy="346.0" r="1.49"/><circle cx="860.0" cy="355.3" r="2.11"/><circle cx="860.0" cy="364.7" r="2.11"/><circle cx="860.0" cy="374.0" r="1.49"/><circle cx="860.0" cy="383.3" r="1.49"/><circle cx="860.0" cy="420.7" r="1.49"/><circle cx="893.1" cy="318.0" r="2.11"/><circle cx="893.1" cy="327.3" r="2.74"/><circle cx="893.1" cy="336.7" r="1.49"/><circle cx="893.1" cy="346.0" r="3.05"/><circle cx="893.1" cy="355.3" r="1.49"/><circle cx="893.1" cy="374.0" r="1.49"/><circle cx="893.1" cy="383.3" r="1.59"/><circle cx="893.1" cy="392.7" r="1.59"/><circle cx="926.2" cy="318.0" r="2.74"/><circle cx="926.2" cy="327.3" r="2.11"/><circle cx="926.2" cy="336.7" r="3.26"/><circle cx="926.2" cy="355.3" r="1.49"/><circle cx="926.2" cy="364.7" r="2.32"/><circle cx="926.2" cy="374.0" r="1.49"/><circle cx="926.2" cy="383.3" r="1.49"/><circle cx="926.2" cy="448.7" r="1.49"/><circle cx="959.2" cy="318.0" r="1.49"/><circle cx="959.2" cy="327.3" r="2.74"/><circle cx="959.2" cy="336.7" r="1.49"/><circle cx="959.2" cy="355.3" r="1.49"/><circle cx="959.2" cy="364.7" r="1.49"/><circle cx="992.3" cy="318.0" r="2.74"/><circle cx="992.3" cy="327.3" r="1.49"/><circle cx="992.3" cy="364.7" r="1.49"/><circle cx="992.3" cy="430.0" r="1.59"/><circle cx="1025.3" cy="327.3" r="1.49"/><circle cx="1058.4" cy="318.0" r="2.74"/><circle cx="1058.4" cy="327.3" r="2.11"/><circle cx="1058.4" cy="336.7" r="1.49"/><circle cx="1091.5" cy="318.0" r="1.49"/><circle cx="1091.5" cy="327.3" r="2.32"/></g>
<g stroke="#000" fill="none">
<path d="M50 648V10H1108V648" stroke-width="2"/>
<path d="M51 598.65H1107" stroke-width="0.9" stroke="#555"/>
<path d="M50 622.95H1108" stroke-width="1.8" stroke="#111"/>
<path d="M49.2 647.3H1109" stroke-width="1.8"/>
<path d="M182.35 598.6V647" stroke-width="1.7" stroke="#111"/>
<path d="M314.60 598.6V647" stroke-width="1.7" stroke="#111"/>
<path d="M446.85 598.6V647" stroke-width="1.7" stroke="#111"/>
<path d="M579.10 598.6V647" stroke-width="1.7" stroke="#111"/>
<path d="M711.35 598.6V647" stroke-width="1.7" stroke="#111"/>
<path d="M843.60 598.6V647" stroke-width="1.7" stroke="#111"/>
<path d="M975.85 598.6V647" stroke-width="1.7" stroke="#111"/>
<path d="M83.16 623V647" stroke-width="1.6" stroke="#1a1a1a"/>
<path d="M116.22 623V647" stroke-width="1.6" stroke="#1a1a1a"/>
<path d="M149.29 623V647" stroke-width="1.6" stroke="#1a1a1a"/>
<path d="M215.41 623V647" stroke-width="1.6" stroke="#1a1a1a"/>
<path d="M248.47 623V647" stroke-width="1.6" stroke="#1a1a1a"/>
<path d="M281.54 623V647" stroke-width="1.6" stroke="#1a1a1a"/>
<path d="M347.66 623V647" stroke-width="1.6" stroke="#1a1a1a"/>
<path d="M380.73 623V647" stroke-width="1.6" stroke="#1a1a1a"/>
<path d="M413.79 623V647" stroke-width="1.6" stroke="#1a1a1a"/>
<path d="M479.91 623V647" stroke-width="1.6" stroke="#1a1a1a"/>
<path d="M512.98 623V647" stroke-width="1.6" stroke="#1a1a1a"/>
<path d="M546.04 623V647" stroke-width="1.6" stroke="#1a1a1a"/>
<path d="M612.16 623V647" stroke-width="1.6" stroke="#1a1a1a"/>
<path d="M645.23 623V647" stroke-width="1.6" stroke="#1a1a1a"/>
<path d="M678.29 623V647" stroke-width="1.6" stroke="#1a1a1a"/>
<path d="M744.41 623V647" stroke-width="1.6" stroke="#1a1a1a"/>
<path d="M777.48 623V647" stroke-width="1.6" stroke="#1a1a1a"/>
<path d="M810.54 623V647" stroke-width="1.6" stroke="#1a1a1a"/>
<path d="M876.66 623V647" stroke-width="1.6" stroke="#1a1a1a"/>
<path d="M909.73 623V647" stroke-width="1.6" stroke="#1a1a1a"/>
<path d="M942.79 623V647" stroke-width="1.6" stroke="#1a1a1a"/>
<path d="M1008.91 623V647" stroke-width="1.6" stroke="#1a1a1a"/>
<path d="M1041.97 623V647" stroke-width="1.6" stroke="#1a1a1a"/>
<path d="M1075.04 623V647" stroke-width="1.6" stroke="#1a1a1a"/>
</g>
<g stroke="#111" stroke-width="1">
<path d="M44 598.39H49.5"/>
<path d="M44 551.70H49.5"/>
<path d="M44 505.01H49.5"/>
<path d="M44 458.32H49.5"/>
<path d="M44 411.63H49.5"/>
<path d="M44 364.94H49.5"/>
<path d="M44 318.25H49.5"/>
<path d="M44 271.56H49.5"/>
<path d="M44 224.87H49.5"/>
<path d="M44 178.18H49.5"/>
<path d="M44 131.49H49.5"/>
<path d="M44 84.80H49.5"/>
<path d="M44 38.11H49.5"/>
<path d="M44 10.4H49.5"/>
</g>
<g font-size="12.3" fill="#151515" text-anchor="end">
<text x="40.6" y="601.9" textLength="19.6" lengthAdjust="spacingAndGlyphs">-30</text>
<text x="40.6" y="508.9" textLength="19.6" lengthAdjust="spacingAndGlyphs">-20</text>
<text x="40.6" y="415.9" textLength="19.6" lengthAdjust="spacingAndGlyphs">-10</text>
<text x="40.6" y="321.9" textLength="7.6" lengthAdjust="spacingAndGlyphs">0</text>
<text x="40.6" y="228.9" textLength="15.3" lengthAdjust="spacingAndGlyphs">10</text>
<text x="40.6" y="134.9" textLength="15.3" lengthAdjust="spacingAndGlyphs">20</text>
<text x="40.6" y="41.9" textLength="15.3" lengthAdjust="spacingAndGlyphs">30</text>
</g>
<g transform="translate(20.2 404.9) rotate(-90)" font-size="24.3" fill="#484848">
<text x="0" y="0" textLength="155.3" lengthAdjust="spacingAndGlyphs">Temperature</text>
<text x="162.9" y="0" textLength="35.2" lengthAdjust="spacingAndGlyphs">(C)</text>
</g>
<g font-size="16.3" fill="#151515" text-anchor="middle">
<text x="116.1" y="614.9" textLength="27.7" lengthAdjust="spacingAndGlyphs">Oct</text>
<text x="248.4" y="614.9" textLength="31.2" lengthAdjust="spacingAndGlyphs">Nov</text>
<text x="380.6" y="614.9" textLength="31.0" lengthAdjust="spacingAndGlyphs">Dec</text>
<text x="512.9" y="614.9" textLength="24.7" lengthAdjust="spacingAndGlyphs">Jan</text>
<text x="645.1" y="614.9" textLength="29.2" lengthAdjust="spacingAndGlyphs">Feb</text>
<text x="777.4" y="614.9" textLength="30.2" lengthAdjust="spacingAndGlyphs">Mar</text>
<text x="909.6" y="614.9" textLength="27.7" lengthAdjust="spacingAndGlyphs">Apr</text>
<text x="1041.9" y="614.9" textLength="33.1" lengthAdjust="spacingAndGlyphs">May</text>
<text x="66.5" y="642.8" textLength="10.18" lengthAdjust="spacingAndGlyphs">1</text>
<text x="99.6" y="642.8" textLength="10.18" lengthAdjust="spacingAndGlyphs">2</text>
<text x="132.7" y="642.8" textLength="10.18" lengthAdjust="spacingAndGlyphs">3</text>
<text x="165.7" y="642.8" textLength="10.18" lengthAdjust="spacingAndGlyphs">4</text>
<text x="198.8" y="642.8" textLength="10.18" lengthAdjust="spacingAndGlyphs">1</text>
<text x="231.8" y="642.8" textLength="10.18" lengthAdjust="spacingAndGlyphs">2</text>
<text x="264.9" y="642.8" textLength="10.18" lengthAdjust="spacingAndGlyphs">3</text>
<text x="298.0" y="642.8" textLength="10.18" lengthAdjust="spacingAndGlyphs">4</text>
<text x="331.0" y="642.8" textLength="10.18" lengthAdjust="spacingAndGlyphs">1</text>
<text x="364.1" y="642.8" textLength="10.18" lengthAdjust="spacingAndGlyphs">2</text>
<text x="397.2" y="642.8" textLength="10.18" lengthAdjust="spacingAndGlyphs">3</text>
<text x="430.2" y="642.8" textLength="10.18" lengthAdjust="spacingAndGlyphs">4</text>
<text x="463.3" y="642.8" textLength="10.18" lengthAdjust="spacingAndGlyphs">1</text>
<text x="496.3" y="642.8" textLength="10.18" lengthAdjust="spacingAndGlyphs">2</text>
<text x="529.4" y="642.8" textLength="10.18" lengthAdjust="spacingAndGlyphs">3</text>
<text x="562.5" y="642.8" textLength="10.18" lengthAdjust="spacingAndGlyphs">4</text>
<text x="595.5" y="642.8" textLength="10.18" lengthAdjust="spacingAndGlyphs">1</text>
<text x="628.6" y="642.8" textLength="10.18" lengthAdjust="spacingAndGlyphs">2</text>
<text x="661.7" y="642.8" textLength="10.18" lengthAdjust="spacingAndGlyphs">3</text>
<text x="694.7" y="642.8" textLength="10.18" lengthAdjust="spacingAndGlyphs">4</text>
<text x="727.8" y="642.8" textLength="10.18" lengthAdjust="spacingAndGlyphs">1</text>
<text x="760.8" y="642.8" textLength="10.18" lengthAdjust="spacingAndGlyphs">2</text>
<text x="793.9" y="642.8" textLength="10.18" lengthAdjust="spacingAndGlyphs">3</text>
<text x="827.0" y="642.8" textLength="10.18" lengthAdjust="spacingAndGlyphs">4</text>
<text x="860.0" y="642.8" textLength="10.18" lengthAdjust="spacingAndGlyphs">1</text>
<text x="893.1" y="642.8" textLength="10.18" lengthAdjust="spacingAndGlyphs">2</text>
<text x="926.2" y="642.8" textLength="10.18" lengthAdjust="spacingAndGlyphs">3</text>
<text x="959.2" y="642.8" textLength="10.18" lengthAdjust="spacingAndGlyphs">4</text>
<text x="992.3" y="642.8" textLength="10.18" lengthAdjust="spacingAndGlyphs">1</text>
<text x="1025.3" y="642.8" textLength="10.18" lengthAdjust="spacingAndGlyphs">2</text>
<text x="1058.4" y="642.8" textLength="10.18" lengthAdjust="spacingAndGlyphs">3</text>
<text x="1091.5" y="642.8" textLength="10.18" lengthAdjust="spacingAndGlyphs">4</text>
</g>
</svg></body></html>
